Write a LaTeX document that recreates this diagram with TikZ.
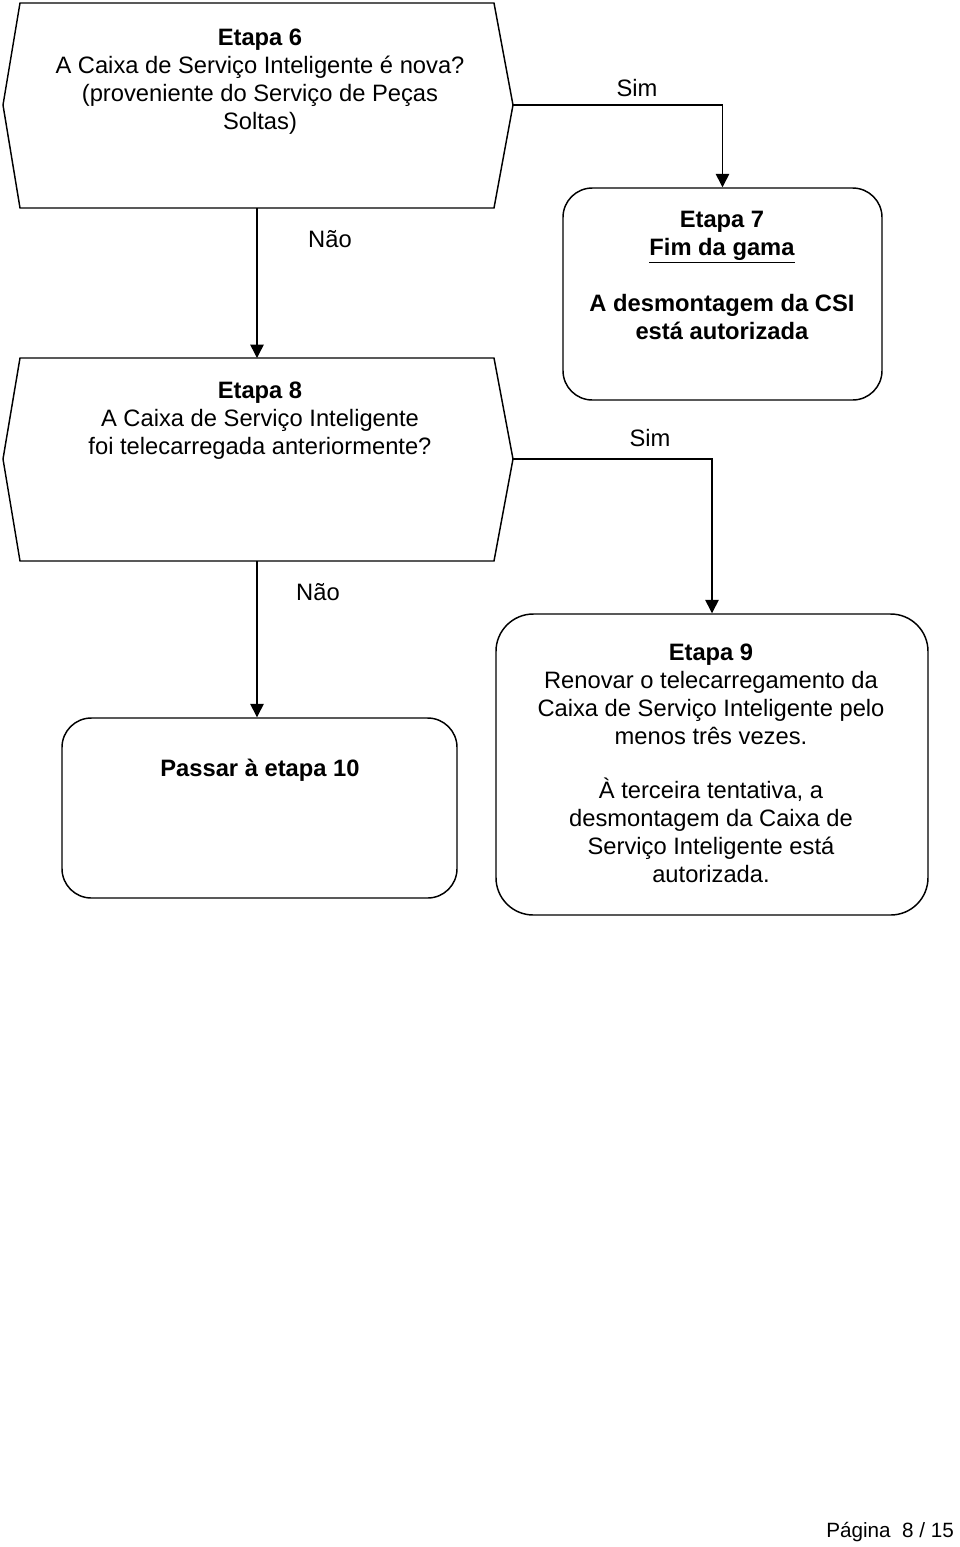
\documentclass[tikz,border=0pt]{standalone}
\usepackage{fontspec}
\setmainfont{Liberation Sans}
\usetikzlibrary{arrows.meta,fit}

\begin{document}
\begin{tikzpicture}[x=0.75pt,y=-0.75pt,line width=1.1pt,
  caixa/.style={draw,rounded corners=22pt,inner sep=0pt},
  texto/.style={align=center,font=\fontsize{17.8}{21}\selectfont},
  seta/.style={-{Triangle[width=10pt,length=10pt]}}]
\useasboundingbox (0,0) rectangle (960,1547);
% etapa 6
\coordinate (e6r) at (513,105);
\coordinate (e6b) at (257,208);
\draw (20,3) -- (494,3) -- (e6r) -- (494,208) -- (20,208) -- (3,105) -- cycle;
\node[texto] (t6) at (260,82) {\textbf{Etapa 6}\\A Caixa de Serviço Inteligente é nova?\\(proveniente do Serviço de Peças\\Soltas)};
% etapa 8
\coordinate (e8t) at (257,358);
\coordinate (e8r) at (513,459);
\coordinate (e8b) at (257,561);
\draw (20,358) -- (494,358) -- (e8r) -- (494,561) -- (20,561) -- (3,459) -- cycle;
\node[texto] (t8) at (260,421) {\textbf{Etapa 8}\\A Caixa de Serviço Inteligente\\foi telecarregada anteriormente?};
% caixas arredondadas
\node[caixa,fit={(563,188) (882,400)}] (e7) {};
\node[caixa,rounded corners=28pt,fit={(496,614) (928,915)}] (e9) {};
\node[caixa,fit={(62,718) (457,898)}] (e10) {};
\node[texto] (t7) at (722,275) {\textbf{Etapa 7}\\\textbf{\underline{Fim da gama}}\\[21pt]\textbf{A desmontagem da CSI}\\\textbf{está autorizada}};
\node[texto] (t9) at (711,763) {\textbf{Etapa 9}\\Renovar o telecarregamento da\\Caixa de Serviço Inteligente pelo\\menos três vezes.\\[19.5pt]À terceira tentativa, a\\desmontagem da Caixa de\\Serviço Inteligente está\\autorizada.};
\node[texto] (t10) at (260,770) {\textbf{Passar à etapa 10}};
% ligacoes
\draw[seta] (e6r) -| (e7.north);
\draw[seta] (e6b) -- (e8t);
\draw[seta] (e8r) -| (e9.north);
\draw[seta] (e8b) -- (e8b |- e10.north);
\node[texto] (sim1) at (637,88) {Sim};
\node[texto] (nao1) at (330,239) {Não};
\node[texto] (sim2) at (650,438) {Sim};
\node[texto] (nao2) at (318,592) {Não};
% rodape
\node[font=\fontsize{15.5}{18}\selectfont,anchor=east] (pag) at (959,1532) {Página\ \ 8 / 15};
\end{tikzpicture}
\end{document}
